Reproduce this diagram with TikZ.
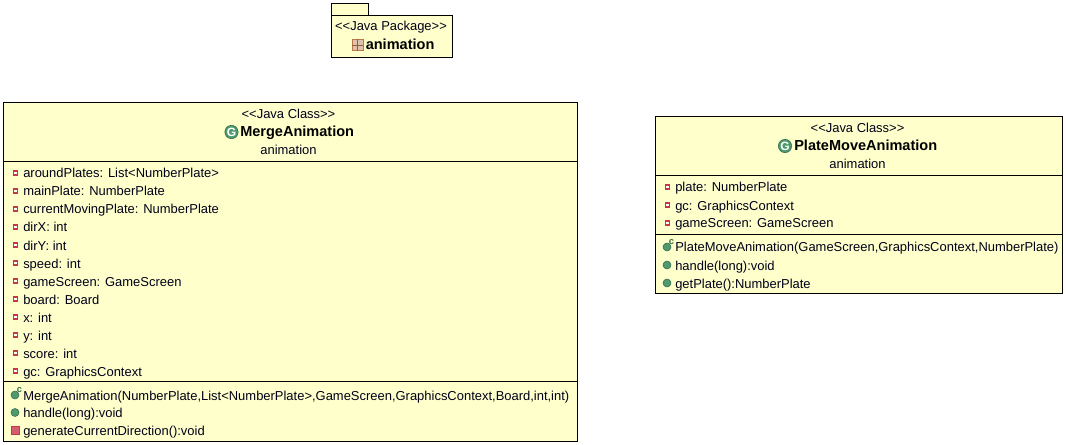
\documentclass[tikz,border=0pt]{standalone}
\usepackage{fontspec}
\setmainfont{Liberation Sans}
\definecolor{umlfill}{HTML}{FFFFCC}
\definecolor{priv}{HTML}{C8364A}
\definecolor{pub}{HTML}{4E9A6E}
\definecolor{pubdark}{HTML}{2F6B48}
\definecolor{pkg}{HTML}{B9784A}
\tikzset{
  x=0.75pt,y=-0.75pt,
  umlbox/.style={draw=black,fill=umlfill,line width=0.75pt},
  sep/.style={draw=black,line width=0.75pt},
  txt/.style={inner sep=0pt,text height=9.5pt,text depth=2pt,font=\fontsize{9.72}{11}\selectfont,text=black!90!blue},
  member/.style={txt,anchor=west},
  title/.style={inner sep=0pt,text height=9.5pt,text depth=2pt,font=\fontsize{10.9}{12}\selectfont\bfseries,text=black},
  privfield/.style={draw=priv,fill=white,line width=1pt,minimum size=3.2pt,inner sep=0pt},
  privmeth/.style={draw=priv,fill=priv!80!white,line width=0.5pt,minimum size=6pt,inner sep=0pt},
  pubmeth/.style={circle,draw=pubdark,fill=pub,line width=0.4pt,minimum size=6pt,inner sep=0pt},
  classicon/.style={circle,draw=pubdark,fill=pub,line width=0.4pt,minimum size=10pt,inner sep=0pt,
     text=white,font=\fontsize{9}{9}\selectfont\bfseries},
  ctorc/.style={inner sep=0pt,text=pubdark,font=\fontsize{7}{7}\selectfont\bfseries}
}
\newcommand{\fieldrow}[4]{%
  \node[privfield] (#1i) at (#2,#3) {};
  \node[member] (#1) at (#2+7.5,#3) {#4};}
\begin{document}
\begin{tikzpicture}
\useasboundingbox (0,0) rectangle (1066,445);
% package
\draw[umlbox] (331.5,3.5) rectangle (368.5,15.5);
\draw[umlbox] (331.5,15.5) rectangle (452.5,57.5);
\node[txt] (pkgst) at (391,26) {<{}<Java Package>{}>};
\node[title,anchor=west] (pkgname) at (365.5,45) {animation};
\node[draw=pkg,fill=pkg!45!white,line width=0.7pt,minimum size=8.2pt,inner sep=0pt] (pkgicon) at (357.5,45) {};
\draw[pkg!80!black,line width=0.7pt] (pkgicon.north) -- (pkgicon.south) (pkgicon.west) -- (pkgicon.east);
% MergeAnimation
\draw[umlbox] (3.5,102.5) rectangle (577.5,441.5);
\draw[sep] (3.5,161.5) -- (577.5,161.5);
\draw[sep] (3.5,381.5) -- (577.5,381.5);
\node[txt] (mst) at (288.5,114) {<{}<Java Class>{}>};
\node[classicon] (mico) at (231.5,132) {G};
\node[title,anchor=west] (mtitle) at (240,132) {MergeAnimation};
\node[txt] (mpkg) at (288.5,150) {animation};
\fieldrow{ma}{15.5}{173}{aroundPlates: List<NumberPlate>}
\fieldrow{mb}{15.5}{191}{mainPlate: NumberPlate}
\fieldrow{mc}{15.5}{209}{currentMovingPlate: NumberPlate}
\fieldrow{md}{15.5}{227}{dirX: int}
\fieldrow{me}{15.5}{245}{dirY: int}
\fieldrow{mf}{15.5}{263}{speed: int}
\fieldrow{mg}{15.5}{281}{gameScreen: GameScreen}
\fieldrow{mh}{15.5}{299}{board: Board}
\fieldrow{mi}{15.5}{317}{x: int}
\fieldrow{mj}{15.5}{335}{y: int}
\fieldrow{mk}{15.5}{353}{score: int}
\fieldrow{ml}{15.5}{371}{gc: GraphicsContext}
\node[pubmeth] (mci) at (15,395) {};
\node[ctorc] (mcc) at (19.5,390) {c};
\node[member] (mctor) at (23,395) {MergeAnimation(NumberPlate,List<NumberPlate>,GameScreen,GraphicsContext,Board,int,int)};
\node[pubmeth] (mhi) at (15,412.5) {};
\node[member] (mh2) at (23,412.5) {handle(long):void};
\node[privmeth] (mgi) at (15.5,430) {};
\node[member] (mg2) at (23,430) {generateCurrentDirection():void};
% PlateMoveAnimation
\draw[umlbox] (655.5,116.5) rectangle (1062.5,293.5);
\draw[sep] (655.5,175.5) -- (1062.5,175.5);
\draw[sep] (655.5,234.5) -- (1062.5,234.5);
\node[txt] (pst) at (857.5,128) {<{}<Java Class>{}>};
\node[classicon] (pico) at (785,146) {G};
\node[title,anchor=west] (ptitle) at (794,146) {PlateMoveAnimation};
\node[txt] (ppkg) at (857.5,164) {animation};
\fieldrow{pa}{667.5}{187}{plate: NumberPlate}
\fieldrow{pb}{667.5}{205}{gc: GraphicsContext}
\fieldrow{pc}{667.5}{223}{gameScreen: GameScreen}
\node[pubmeth] (pci) at (667,247) {};
\node[ctorc] (pcc) at (671.5,242) {c};
\node[member] (pctor) at (675,247) {PlateMoveAnimation(GameScreen,GraphicsContext,NumberPlate)};
\node[pubmeth] (phi) at (667,265) {};
\node[member] (ph2) at (675,265) {handle(long):void};
\node[pubmeth] (pgi) at (667,283) {};
\node[member] (pg2) at (675,283) {getPlate():NumberPlate};
\end{tikzpicture}
\end{document}
